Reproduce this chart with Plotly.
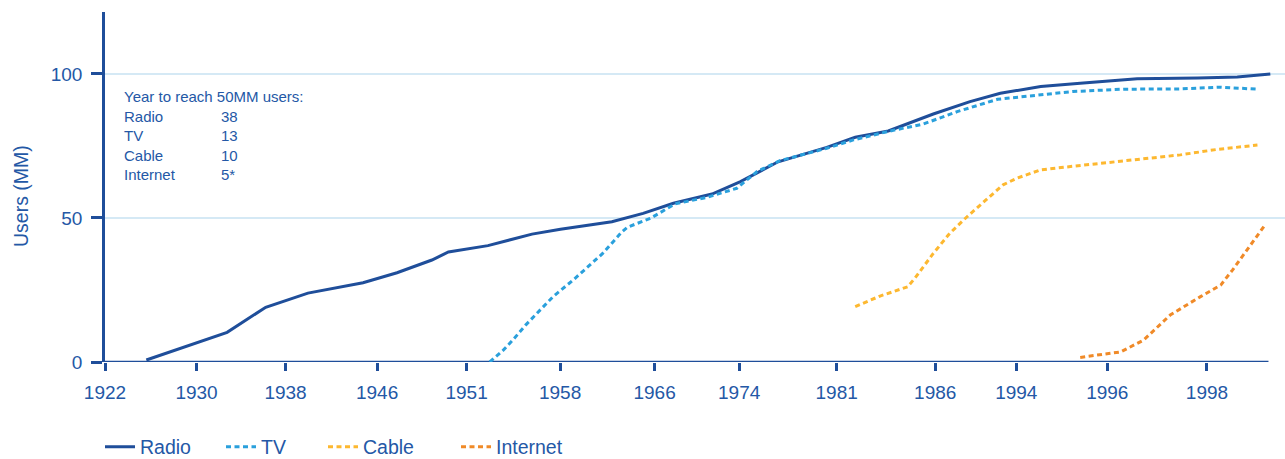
import plotly.graph_objects as go

# ---- data (x = position along the time axis, in tick-spacing units) ----
tick_labels = ["1922", "1930", "1938", "1946", "1951", "1958", "1966",
               "1974", "1981", "1986", "1994", "1996", "1998"]
tick_pos = [0, 0.997, 1.966, 2.963, 3.938, 4.956, 5.985,
            6.906, 7.968, 9.041, 9.924, 10.915, 12.0]

radio_x = [0.45, 1.33, 1.75, 2.21, 2.81, 3.18, 3.56, 3.74, 4.17, 4.65, 4.96,
           5.52, 5.86, 6.19, 6.61, 6.92, 7.33, 7.86, 8.17, 8.53, 9.02, 9.42,
           9.75, 10.19, 10.62, 11.24, 11.90, 12.33, 12.69]
radio_y = [0.7, 10.3, 19.0, 23.9, 27.5, 31.0, 35.4, 38.2, 40.4, 44.4, 46.1,
           48.7, 51.6, 55.1, 58.3, 62.6, 69.5, 74.5, 78.0, 80.2, 86.1, 90.4,
           93.3, 95.6, 96.8, 98.3, 98.6, 98.9, 100.0]

tv_x = [4.19, 4.34, 4.44, 4.58, 4.88, 5.10, 5.42, 5.63, 5.69, 5.94, 6.21,
        6.56, 6.88, 7.10, 7.35, 7.86, 8.15, 8.55, 8.91, 9.28, 9.72, 10.19,
        10.54, 11.09, 11.71, 12.15, 12.55]
tv_y = [0.0, 4.2, 7.6, 12.8, 22.7, 28.5, 37.7, 45.2, 46.8, 49.9, 54.9,
        57.2, 60.3, 66.1, 69.9, 74.2, 77.1, 80.2, 82.6, 86.9, 91.2, 92.7,
        93.9, 94.7, 94.8, 95.4, 94.7]

cable_x = [8.17, 8.44, 8.74, 8.82, 9.02, 9.20, 9.39, 9.61, 9.78, 9.93,
           10.19, 10.44, 11.17, 11.71, 12.11, 12.55]
cable_y = [19.2, 22.9, 26.1, 29.1, 37.7, 44.7, 50.5, 56.8, 61.5, 63.8,
           66.7, 67.6, 70.1, 71.9, 73.8, 75.3]

internet_x = [10.62, 11.06, 11.31, 11.60, 11.93, 12.15, 12.28, 12.64]
internet_y = [1.6, 3.5, 7.6, 16.3, 22.7, 26.7, 32.0, 47.9]

table_names = ["Radio", "TV", "Cable", "Internet"]
table_years = ["38", "13", "10", "5*"]

# ---- styling ----
FONT = "Arial, Liberation Sans, sans-serif"
AXIS = "#1f4e9a"
TEXT = "#2458a6"
GRID = "#d5e9f5"
C_RADIO = "#1f4e9a"
C_TV = "#2aa0dc"
C_CABLE = "#fdb830"
C_NET = "#f08a28"
DASH = "5px,3.5px"

fig = go.Figure()
fig.add_trace(go.Scatter(x=radio_x, y=radio_y, mode="lines", name="Radio",
                         line=dict(color=C_RADIO, width=3), legend="legend"))
fig.add_trace(go.Scatter(x=tv_x, y=tv_y, mode="lines", name="TV",
                         line=dict(color=C_TV, width=3, dash=DASH), legend="legend2"))
fig.add_trace(go.Scatter(x=cable_x, y=cable_y, mode="lines", name="Cable",
                         line=dict(color=C_CABLE, width=3, dash=DASH), legend="legend3"))
fig.add_trace(go.Scatter(x=internet_x, y=internet_y, mode="lines", name="Internet",
                         line=dict(color=C_NET, width=3, dash=DASH), legend="legend4"))

W, H = 1285, 459
ml, mr, mt, mb = 105, 0, 12, 97
pw = W - ml - mr
ph = H - mt - mb

def lg(px):
    return dict(x=(px - ml) / pw, y=-0.243, xanchor="left", yanchor="middle",
                orientation="h", bgcolor="rgba(0,0,0,0)", borderwidth=0,
                font=dict(family=FONT, size=19.5, color=TEXT))

fig.update_layout(
    width=W, height=H,
    margin=dict(l=ml, r=mr, t=mt, b=mb, autoexpand=False),
    paper_bgcolor="white", plot_bgcolor="white",
    font=dict(family=FONT, size=19, color=TEXT),
    showlegend=True,
    legend=lg(100), legend2=lg(221), legend3=lg(323), legend4=lg(456),
    xaxis=dict(range=[0, 12.85], tickmode="array", tickvals=tick_pos,
               ticktext=tick_labels, showgrid=False, zeroline=False,
               showline=False, ticks="outside", ticklen=8, tickwidth=2.5,
               tickcolor=AXIS, tickfont=dict(family=FONT, size=19, color=TEXT),
               ticklabelstandoff=5, fixedrange=True),
    yaxis=dict(range=[0, 121.5], tickmode="array", tickvals=[0, 50, 100],
               showgrid=True, gridcolor=GRID, gridwidth=1.5, zeroline=False,
               showline=True, linecolor=AXIS, linewidth=2.5,
               ticks="outside", ticklen=11, tickwidth=2.5, tickcolor=AXIS,
               tickfont=dict(family=FONT, size=19, color=TEXT),
               ticklabelstandoff=5, fixedrange=True),
)

# y axis title
fig.add_annotation(xref="paper", yref="paper", x=(21 - ml) / pw,
                   y=(H - mb - 196) / ph, xanchor="center", yanchor="middle",
                   textangle=-90, showarrow=False, text="Users (MM)",
                   font=dict(family=FONT, size=19.5, color=TEXT))

# x axis baseline
fig.add_shape(type="line", xref="x", yref="y", x0=0, x1=12.67, y0=0, y1=0,
              line=dict(color=AXIS, width=2.5), layer="below")

# info table
ann_y = (362 - 86) / 350
fig.add_annotation(xref="paper", yref="paper", x=(122 - ml) / pw, y=ann_y,
                   xanchor="left", yanchor="top", align="left", showarrow=False,
                   text="<br>".join(["Year to reach 50MM users:"] + table_names),
                   font=dict(family=FONT, size=15, color=TEXT))
fig.add_annotation(xref="paper", yref="paper", x=(219 - ml) / pw, y=ann_y,
                   xanchor="left", yanchor="top", align="left", showarrow=False,
                   text="<br>".join([" "] + table_years),
                   font=dict(family=FONT, size=15, color=TEXT))

fig.write_html("out.html")
